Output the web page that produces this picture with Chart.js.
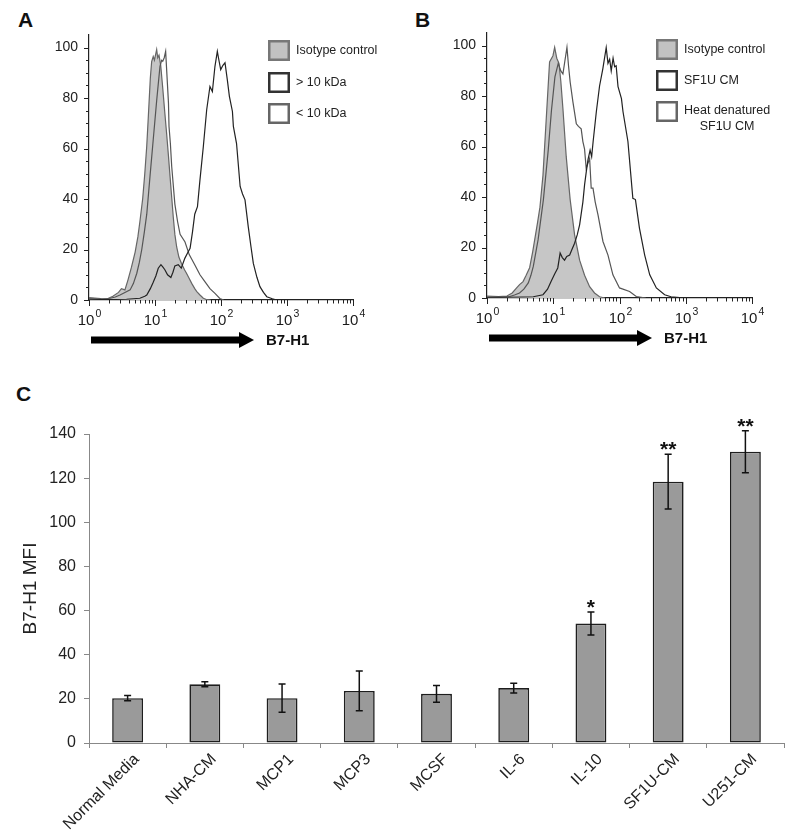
<!DOCTYPE html>
<html>
<head>
<meta charset="utf-8">
<script src="https://cdn.jsdelivr.net/npm/chart.js@4.4.0/dist/chart.umd.min.js"></script>
<style>
  body { margin: 0; background: #fff; width: 800px; height: 831px; position: relative; overflow: hidden;
         font-family: 'Liberation Sans', Arial, sans-serif; }
  .box { position: absolute; }
  .letter { position: absolute; font-weight: bold; font-size: 21px; line-height: 1; color: #111; }
</style>
</head>
<body>
<div class="letter" style="left:18px;top:9px">A</div>
<div class="letter" style="left:415px;top:9px">B</div>
<div class="letter" style="left:16px;top:383px">C</div>
<div class="box" style="left:0;top:0;width:400px;height:370px"><canvas id="histA"></canvas></div>
<div class="box" style="left:400px;top:0;width:400px;height:370px"><canvas id="histB"></canvas></div>
<div class="box" style="left:0;top:400px;width:800px;height:431px"><canvas id="barC"></canvas></div>

<script>
// ---- panel A histograms (fluorescence, % of max) ----
const isoAx = [1, 1.5, 1.9, 2.3, 2.8, 3.1, 3.5, 3.9, 4.4, 5.0, 5.5, 5.9, 6.5, 7.0, 7.5, 7.9, 8.5, 8.9, 9.4, 9.8, 10.6, 11.0, 11.5, 12.2, 13, 14, 15, 16, 16.9, 18, 18.9, 20, 21.3, 23, 25.2, 28, 30, 33, 36, 40, 43, 48, 54, 60, 70];
const isoAy = [1, 0.6, 0.5, 1.5, 3, 4.5, 4, 8, 13, 19, 25, 31, 40, 50, 61, 72, 88, 94.5, 96.5, 95, 99.2, 96, 97, 93, 85, 75, 66, 57, 49, 40, 33, 26, 21, 17, 14.5, 12, 10.6, 8.5, 6.6, 4.5, 3.3, 2, 0.7, 0.2, 0];

const gt10Ax = [1, 2, 3.7, 5.9, 7.0, 7.5, 8.5, 9.4, 10.3, 11.2, 12.3, 13.2, 14.1, 15.5, 17.4, 18.7, 20, 22.5, 25, 28.3, 31, 34, 37, 40, 44, 48, 54, 60.7, 68, 74, 81, 88, 93, 99, 107, 115, 125, 134, 149, 154, 172, 195, 212, 231, 259, 285, 309, 350, 389, 440, 494, 600, 694, 1000, 1200];
const gt10Ay = [0.3, 0.2, 0.3, 0.7, 1.5, 2, 4.5, 7, 9.5, 12.6, 14, 13, 12, 10, 8.9, 11, 13.5, 14, 12.6, 16.5, 18.5, 20.5, 27, 34, 37, 47.6, 60.8, 75.4, 84.6, 82.6, 92.6, 98.5, 95, 91.3, 93, 94, 87, 80.7, 74.7, 68.8, 62, 45, 42, 39.7, 29, 21, 14.5, 9, 5.3, 3, 1.3, 0.5, 0, 0.2, 0];

const lt10Ax = [1, 1.6, 2.1, 2.5, 2.95, 3.5, 4.2, 4.7, 5.3, 5.8, 6.3, 6.9, 7.5, 8.4, 9.4, 10.6, 11.9, 12.6, 13.1, 13.8, 14.5, 15.4, 16.0, 16.3, 17.1, 17.9, 20, 22, 24, 28.5, 33, 40, 48, 57, 68, 81, 96, 110];
const lt10Ay = [0.5, 0.3, 0.7, 1.2, 2, 3, 4, 6.5, 10.6, 15, 20, 27, 34, 49, 63.5, 79, 92.6, 95, 94.6, 96, 98.5, 86, 78, 68.8, 62, 53, 38, 31, 26, 23, 18, 14, 10, 7.3, 4.5, 2.6, 0.6, 0];

// ---- panel B histograms ----
const isoBx = [1, 1.5, 2, 2.4, 2.8, 3.1, 3.5, 3.9, 4.4, 4.9, 5.8, 6.3, 7.0, 7.8, 8.8, 9.9, 10.5, 11.3, 12.2, 13, 14, 15.7, 18, 21, 25, 29.7, 35.4, 42, 50, 60];
const isoBy = [0.8, 0.6, 0.8, 2, 4, 5.3, 6.5, 9, 12, 18.4, 30, 36, 48.7, 70, 93.5, 96, 99.3, 95, 93, 86, 75, 56, 39, 25, 15, 9, 4.5, 2, 0.5, 0];

const sf1uBx = [1, 2, 3.5, 5, 7, 8.2, 9.3, 10.5, 11.7, 12.7, 13.7, 14.8, 16, 17.7, 19, 21, 23, 25, 28, 29.7, 31.5, 33.4, 36, 38, 40, 44.7, 50, 56, 63, 67, 71, 75, 80, 84.5, 89, 95, 107, 113, 134, 159, 174, 200, 240, 286, 360, 480, 600, 1000, 1300];
const sf1uBy = [0.3, 0.3, 0.4, 0.5, 1.3, 3.5, 6.6, 9.5, 11.9, 17.8, 16, 15, 16.5, 17, 19, 21.7, 25, 29, 38, 44.8, 50, 54.7, 58.6, 56, 62, 73.8, 84, 90.8, 99.2, 93, 94.6, 90, 95, 91.6, 92, 83.7, 79, 73.8, 62, 39.5, 39, 27.7, 17, 9.2, 4, 1.3, 0.5, 0, 0];

const heatBx = [1, 1.6, 2.2, 2.6, 3.1, 3.6, 4.2, 4.6, 5, 5.9, 7.1, 8.4, 9.4, 10.6, 11.9, 13, 14, 15, 16.1, 17, 18, 19.8, 22.3, 24, 26.4, 28, 29.7, 31.4, 33, 35.4, 37.4, 39.8, 43, 47.3, 56.3, 67, 79.5, 100, 142, 179, 250];
const heatBy = [0.3, 0.3, 0.6, 1.2, 2, 3.5, 6, 9, 12.5, 23, 39, 58.6, 74.4, 87.6, 93, 90, 88.8, 94, 99.3, 92, 85.6, 77.7, 69, 68, 67, 62, 59, 51.4, 53, 55.3, 43.5, 43.5, 38, 33, 22.4, 17, 9.2, 4, 2.6, 0.6, 0];

// ---- panel C bar chart ----
const categories = ['Normal Media', 'NHA-CM', 'MCP1', 'MCP3', 'MCSF', 'IL-6', 'IL-10', 'SF1U-CM', 'U251-CM'];
const mfi = [20.3, 26.6, 20.3, 23.6, 22.3, 24.9, 54.1, 118.4, 132.0];
const mfiErr = [1.2, 1.1, 6.4, 9.0, 3.8, 2.2, 5.2, 12.4, 9.5];
const stars = ['', '', '', '', '', '', '*', '**', '**'];

const FONT = "'Liberation Sans', Arial, sans-serif";
Chart.defaults.font.family = FONT;
Chart.defaults.color = '#222';

function pts(xs, ys) {
  return xs.map((x, i) => ({ x: x, y: ys[i] }));
}

// tick marks, 10^n labels, legend boxes and the B7-H1 arrow for the histograms
const histExtras = {
  id: 'histExtras',
  afterDraw(chart, args, opts) {
    const ctx = chart.ctx, xs = chart.scales.x, ys = chart.scales.y, a = chart.chartArea;
    ctx.save();
    ctx.strokeStyle = '#222';
    ctx.lineWidth = 1;
    xs.ticks.forEach(t => {
      const v = t.value;
      const e = Math.floor(Math.log10(v) + 1e-9);
      const m = v / Math.pow(10, e);
      if (Math.abs(m - Math.round(m)) > 1e-6) return;
      const major = Math.round(m) === 1;
      const px = Math.round(xs.getPixelForValue(v)) + 0.5;
      ctx.beginPath();
      ctx.moveTo(px, a.bottom);
      ctx.lineTo(px, a.bottom + (major ? 6 : 3.5));
      ctx.stroke();
      if (major) {
        ctx.fillStyle = '#1a1a1a';
        ctx.textBaseline = 'alphabetic';
        ctx.font = '15px ' + FONT;
        const w1 = ctx.measureText('10').width;
        ctx.font = '10.5px ' + FONT;
        const sup = String(e);
        const w2 = ctx.measureText(sup).width;
        const x0 = px - (w1 + w2 + 1) / 2;
        ctx.font = '15px ' + FONT;
        ctx.textAlign = 'left';
        ctx.fillText('10', x0, a.bottom + 25);
        ctx.font = '10.5px ' + FONT;
        ctx.fillText(sup, x0 + w1 + 1, a.bottom + 17);
      }
    });
    ys.ticks.forEach(t => {
      if (t.value > 100) return;
      const py = Math.round(ys.getPixelForValue(t.value)) + 0.5;
      const major = t.value % 20 === 0;
      ctx.beginPath();
      ctx.moveTo(a.left, py);
      ctx.lineTo(a.left - (major ? 5 : 3), py);
      ctx.stroke();
    });

    // legend boxes
    chart.data.datasets.forEach((ds, i) => {
      const bx = opts.legendX, by = opts.legendY[i];
      ctx.fillStyle = ds.legendFill;
      ctx.fillRect(bx, by, 22, 21);
      ctx.strokeStyle = ds.legendBorder;
      ctx.lineWidth = 2.5;
      ctx.strokeRect(bx + 1.25, by + 1.25, 19.5, 18.5);
      ctx.fillStyle = '#222';
      ctx.font = '12.5px ' + FONT;
      ctx.textBaseline = 'middle';
      const lines = ds.label.split('\n');
      if (lines.length === 1) {
        ctx.textAlign = 'left';
        ctx.fillText(lines[0], bx + 28, by + 11);
      } else {
        const cx = bx + 28 + ctx.measureText(lines[0]).width / 2;
        ctx.textAlign = 'center';
        lines.forEach((ln, k) => ctx.fillText(ln, cx, by + 10 + k * 16));
      }
    });

    // arrow with axis name
    const ay = a.bottom + 40, x1 = a.left + 2, tip = a.left + 165;
    ctx.fillStyle = '#000';
    ctx.fillRect(x1, ay - 3.5, tip - 14 - x1, 7);
    ctx.beginPath();
    ctx.moveTo(tip - 15, ay - 8);
    ctx.lineTo(tip, ay);
    ctx.lineTo(tip - 15, ay + 8);
    ctx.closePath();
    ctx.fill();
    ctx.font = 'bold 15px ' + FONT;
    ctx.textAlign = 'left';
    ctx.textBaseline = 'middle';
    ctx.fillStyle = '#111';
    ctx.fillText('B7-H1', tip + 12, ay + 1);
    ctx.restore();
  }
};

function histOptions(pad, legendX, legendY) {
  return {
    responsive: true,
    maintainAspectRatio: false,
    animation: false,
    layout: { padding: pad },
    plugins: {
      legend: { display: false },
      tooltip: { enabled: false },
      histExtras: { legendX: legendX, legendY: legendY }
    },
    elements: { point: { radius: 0 }, line: { tension: 0 } },
    scales: {
      x: {
        type: 'logarithmic', min: 1, max: 10000,
        ticks: { display: false },
        grid: { display: false, drawTicks: false },
        border: { display: true, color: '#222', width: 1.2 },
        afterFit(s) { s.height = 0; }
      },
      y: {
        min: 0, max: 105,
        ticks: {
          stepSize: 5, autoSkip: false, padding: 11,
          font: { size: 14 }, color: '#222',
          callback: v => (v % 20 === 0 && v <= 100 ? v : '')
        },
        grid: { display: false, drawTicks: false },
        border: { display: true, color: '#222', width: 1.2 },
        afterFit(s) { s.width = 40; }
      }
    }
  };
}

new Chart(document.getElementById('histA'), {
  type: 'line',
  data: {
    datasets: [
      { label: 'Isotype control', data: pts(isoAx, isoAy), fill: 'origin', backgroundColor: '#c6c6c6',
        borderColor: '#666', borderWidth: 1.2, order: 3, legendFill: '#c2c2c2', legendBorder: '#777' },
      { label: '> 10 kDa', data: pts(gt10Ax, gt10Ay), fill: false, borderColor: '#222', borderWidth: 1.2,
        order: 1, legendFill: '#fff', legendBorder: '#333' },
      { label: '< 10 kDa', data: pts(lt10Ax, lt10Ay), fill: false, borderColor: '#555', borderWidth: 1.2,
        order: 2, legendFill: '#fff', legendBorder: '#666' }
    ]
  },
  options: histOptions({ left: 49, right: 47, top: 35, bottom: 70 }, 268, [40, 72, 103]),
  plugins: [histExtras]
});

new Chart(document.getElementById('histB'), {
  type: 'line',
  data: {
    datasets: [
      { label: 'Isotype control', data: pts(isoBx, isoBy), fill: 'origin', backgroundColor: '#c6c6c6',
        borderColor: '#666', borderWidth: 1.2, order: 3, legendFill: '#c2c2c2', legendBorder: '#777' },
      { label: 'SF1U CM', data: pts(sf1uBx, sf1uBy), fill: false, borderColor: '#222', borderWidth: 1.2,
        order: 1, legendFill: '#fff', legendBorder: '#333' },
      { label: 'Heat denatured\nSF1U CM', data: pts(heatBx, heatBy), fill: false, borderColor: '#555',
        borderWidth: 1.2, order: 2, legendFill: '#fff', legendBorder: '#666' }
    ]
  },
  options: histOptions({ left: 47, right: 48, top: 33, bottom: 72 }, 256, [39, 70, 101]),
  plugins: [histExtras]
});

// error bars and significance stars
const errorBars = {
  id: 'errorBars',
  afterDatasetsDraw(chart) {
    const ctx = chart.ctx, ys = chart.scales.y;
    const meta = chart.getDatasetMeta(0);
    ctx.save();
    ctx.strokeStyle = '#111';
    ctx.lineWidth = 1.5;
    meta.data.forEach((bar, i) => {
      const top = ys.getPixelForValue(mfi[i] + mfiErr[i]);
      const bot = ys.getPixelForValue(mfi[i] - mfiErr[i]);
      ctx.beginPath();
      ctx.moveTo(bar.x, top); ctx.lineTo(bar.x, bot);
      ctx.moveTo(bar.x - 3.5, top); ctx.lineTo(bar.x + 3.5, top);
      ctx.moveTo(bar.x - 3.5, bot); ctx.lineTo(bar.x + 3.5, bot);
      ctx.stroke();
      if (stars[i]) {
        ctx.fillStyle = '#111';
        ctx.font = 'bold 21px ' + FONT;
        ctx.textAlign = 'center';
        ctx.textBaseline = 'alphabetic';
        ctx.fillText(stars[i], bar.x, top + 2);
      }
    });
    ctx.restore();
  }
};

new Chart(document.getElementById('barC'), {
  type: 'bar',
  data: {
    labels: categories,
    datasets: [{
      label: 'B7-H1 MFI',
      data: mfi,
      backgroundColor: '#9a9a9a',
      borderColor: '#1e1e1e',
      borderWidth: 1.6,
      borderSkipped: false,
      barPercentage: 0.4,
      categoryPercentage: 1
    }]
  },
  options: {
    responsive: true,
    maintainAspectRatio: false,
    animation: false,
    layout: { padding: { left: 15, right: 16, top: 34, bottom: 0 } },
    plugins: { legend: { display: false }, tooltip: { enabled: false } },
    scales: {
      x: {
        ticks: { font: { size: 16 }, color: '#222', minRotation: 45, maxRotation: 45, autoSkip: false,
                 padding: 2, labelOffset: 9 },
        grid: { display: true, drawOnChartArea: false, drawTicks: true, tickLength: 5, color: '#888', offset: true },
        border: { display: true, color: '#888', width: 1 },
        afterFit(s) { s.height = 88; }
      },
      y: {
        min: 0, max: 140,
        ticks: { stepSize: 20, font: { size: 16 }, color: '#222', padding: 8 },
        grid: { display: true, drawOnChartArea: false, drawTicks: true, tickLength: 5, color: '#888' },
        border: { display: true, color: '#888', width: 1 },
        title: { display: true, text: 'B7-H1 MFI', font: { size: 19 }, color: '#222', padding: { top: 4, bottom: 4 } },
        afterFit(s) { s.width = 74; }
      }
    }
  },
  plugins: [errorBars]
});
</script>
</body>
</html>
